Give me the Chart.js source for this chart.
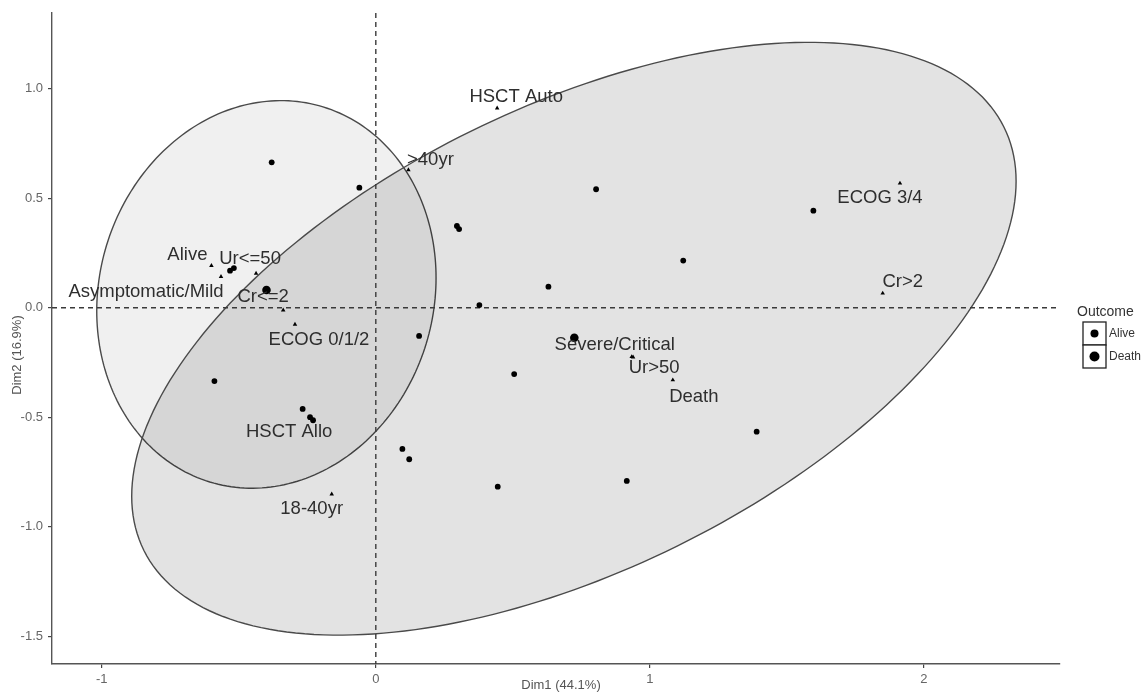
<!DOCTYPE html>
<html>
<head>
<meta charset="utf-8">
<script src="https://cdn.jsdelivr.net/npm/chart.js@4.4.1/dist/chart.umd.min.js"></script>
<style>
  html, body { margin: 0; padding: 0; background: #ffffff; }
  canvas { display: block; }
</style>
</head>
<body>
<canvas id="mca" width="1146" height="693"></canvas>
<script>
// Axis ticks
const xTicks = [-1, 0, 1, 2];
const xTickLabels = ['-1', '0', '1', '2'];
const yTicks = [-1.5, -1.0, -0.5, 0.0, 0.5, 1.0];
const yTickLabels = ['-1.5', '-1.0', '-0.5', '0.0', '0.5', '1.0'];
const xTitle = 'Dim1 (44.1%)';
const yTitle = 'Dim2 (16.9%)';

// Individuals (row coordinates)
const indX = [-0.380, -0.060, 0.296, 0.304, 0.804, 1.597, 1.122, 0.630, 0.378, 0.158,
              0.505, 1.390, 0.097, 0.122, 0.445, 0.916, -0.589, -0.267, -0.240, -0.229,
              -0.532, -0.518];
const indY = [0.664, 0.548, 0.373, 0.359, 0.541, 0.443, 0.215, 0.096, 0.012, -0.129,
              -0.303, -0.566, -0.645, -0.692, -0.817, -0.791, -0.335, -0.462, -0.500, -0.514,
              0.169, 0.181];

// Variable categories (column coordinates)
const catNames = ['Alive', 'Asymptomatic/Mild', 'Ur<=50', 'Cr<=2', 'ECOG 0/1/2', 'HSCT Allo',
                  '18-40yr', 'HSCT Auto', '>40yr', 'ECOG 3/4', 'Cr>2', 'Severe/Critical',
                  'Ur>50', 'Death'];
const catX = [-0.600, -0.565, -0.437, -0.338, -0.295, -0.236, -0.161, 0.443, 0.119, 1.913,
              1.850, 0.934, 0.939, 1.084];
const catY = [0.192, 0.142, 0.157, -0.011, -0.076, -0.504, -0.851, 0.911, 0.629, 0.568,
              0.066, -0.224, -0.226, -0.330];

// Outcome groups: mean points and concentration ellipses
const groups = ['Alive', 'Death'];
const groupX = [-0.399, 0.7245];
const groupY = [0.081, -0.137];
const ellCx = [-0.3993, 0.7230];
const ellCy = [0.0607, -0.1416];
const ellSxx = [0.3834, 2.6046];
const ellSyy = [0.7831, 1.8318];
const ellSxy = [0.0468, 1.1607];

// Label placement (pixel shift of each category label from its marker)
const catLabelShift = [[-24, -11], [-75, 15], [-6, -14], [-20, -13], [24, 16], [-22, 14],
                       [-20, 15], [19, -11], [22, -10], [-20, 15], [20, -11], [-17, -12],
                       [21, 11], [21, 17]];

const ellFill = ['rgba(0,0,0,0.059)', 'rgba(0,0,0,0.11)'];
const FONT = "'Liberation Sans', Arial, sans-serif";

const decor = {
  id: 'decor',
  beforeDatasetsDraw(chart) {
    const { ctx, chartArea: a, scales: { x, y } } = chart;
    ctx.save();
    ctx.beginPath();
    ctx.rect(a.left, a.top, a.right - a.left, a.bottom - a.top);
    ctx.clip();
    // concentration ellipses
    for (let g = 0; g < groups.length; g++) {
      const L11 = Math.sqrt(ellSxx[g]);
      const L21 = ellSxy[g] / L11;
      const L22 = Math.sqrt(ellSyy[g] - L21 * L21);
      ctx.beginPath();
      for (let i = 0; i <= 240; i++) {
        const t = (i / 240) * Math.PI * 2;
        const vx = ellCx[g] + L11 * Math.cos(t);
        const vy = ellCy[g] + L21 * Math.cos(t) + L22 * Math.sin(t);
        const px = x.getPixelForValue(vx), py = y.getPixelForValue(vy);
        if (i === 0) ctx.moveTo(px, py); else ctx.lineTo(px, py);
      }
      ctx.closePath();
      ctx.fillStyle = ellFill[g];
      ctx.fill();
      ctx.strokeStyle = '#4a4a4a';
      ctx.lineWidth = 1.4;
      ctx.stroke();
    }
    // reference lines through the origin
    ctx.setLineDash([5, 4]);
    ctx.strokeStyle = '#3a3a3a';
    ctx.lineWidth = 1.4;
    const x0 = x.getPixelForValue(0), y0 = y.getPixelForValue(0);
    ctx.beginPath();
    ctx.moveTo(x0, a.top); ctx.lineTo(x0, a.bottom);
    ctx.moveTo(a.left, y0); ctx.lineTo(a.right, y0);
    ctx.stroke();
    ctx.restore();
  },
  afterDatasetsDraw(chart) {
    const { ctx, scales: { x, y } } = chart;
    ctx.save();
    ctx.font = '18.5px ' + FONT;
    ctx.fillStyle = '#2e2e2e';
    ctx.textAlign = 'center';
    ctx.textBaseline = 'middle';
    catNames.forEach((name, i) => {
      const px = x.getPixelForValue(catX[i]) + catLabelShift[i][0];
      const py = y.getPixelForValue(catY[i]) + catLabelShift[i][1];
      ctx.fillText(name, px, py);
    });
    ctx.restore();
  },
  afterDraw(chart) {
    const { ctx } = chart;
    ctx.save();
    // axis titles
    ctx.fillStyle = '#555555';
    ctx.font = '13px ' + FONT;
    ctx.textAlign = 'center';
    ctx.textBaseline = 'middle';
    ctx.fillText(xTitle, 561, 685);
    ctx.translate(17, 355);
    ctx.rotate(-Math.PI / 2);
    ctx.fillText(yTitle, 0, 0);
    ctx.setTransform(1, 0, 0, 1, 0, 0);
    // legend
    ctx.fillStyle = '#333333';
    ctx.textAlign = 'left';
    ctx.font = '14px ' + FONT;
    ctx.fillText('Outcome', 1077, 312);
    const dotR = [4, 5];
    groups.forEach((g, i) => {
      const top = 322 + i * 23;
      ctx.fillStyle = '#ffffff';
      ctx.fillRect(1083, top, 23, 23);
      ctx.strokeStyle = '#222222';
      ctx.lineWidth = 1.3;
      ctx.strokeRect(1083, top, 23, 23);
      ctx.fillStyle = '#000000';
      ctx.beginPath();
      ctx.arc(1094.5, top + 11.5, dotR[i], 0, Math.PI * 2);
      ctx.fill();
      ctx.fillStyle = '#333333';
      ctx.font = '12px ' + FONT;
      ctx.fillText(g, 1109, top + 11.5);
    });
    ctx.restore();
  }
};

const toPts = (xs, ys) => xs.map((v, i) => ({ x: v, y: ys[i] }));

new Chart(document.getElementById('mca'), {
  type: 'scatter',
  data: {
    datasets: [
      {
        label: 'Individuals',
        data: toPts(indX, indY),
        pointStyle: 'circle',
        pointRadius: 2.9,
        backgroundColor: '#000000',
        borderColor: '#000000',
        borderWidth: 0
      },
      {
        label: 'Categories',
        data: toPts(catX, catY),
        pointStyle: 'triangle',
        pointRadius: 2.6,
        backgroundColor: '#000000',
        borderColor: '#000000',
        borderWidth: 0
      },
      {
        label: 'Group means',
        data: toPts(groupX, groupY),
        pointStyle: 'circle',
        pointRadius: 4.3,
        backgroundColor: '#000000',
        borderColor: '#000000',
        borderWidth: 0
      }
    ]
  },
  options: {
    responsive: false,
    devicePixelRatio: 1,
    animation: false,
    layout: { padding: { left: 0, right: 86, top: 13, bottom: 0 } },
    plugins: { legend: { display: false }, tooltip: { enabled: false } },
    scales: {
      x: {
        type: 'linear',
        min: -1.1818,
        max: 2.4971,
        afterBuildTicks(s) { s.ticks = xTicks.map(v => ({ value: v })); },
        afterFit(s) { s.height = 29; },
        ticks: {
          callback: (v) => xTickLabels[xTicks.indexOf(v)],
          color: '#666666',
          font: { family: FONT, size: 13 },
          padding: 4,
          maxRotation: 0
        },
        grid: { drawOnChartArea: false, drawTicks: true, tickLength: 4, color: '#444444', lineWidth: 1.2 },
        border: { display: true, color: '#555555', width: 1.4 }
      },
      y: {
        type: 'linear',
        min: -1.6269,
        max: 1.3457,
        afterBuildTicks(s) { s.ticks = yTicks.map(v => ({ value: v })); },
        afterFit(s) { s.width = 52; },
        ticks: {
          callback: (v) => yTickLabels[yTicks.indexOf(v)],
          color: '#666666',
          font: { family: FONT, size: 13 },
          padding: 5
        },
        grid: { drawOnChartArea: false, drawTicks: true, tickLength: 4, color: '#444444', lineWidth: 1.2 },
        border: { display: true, color: '#555555', width: 1.4 }
      }
    }
  },
  plugins: [decor]
});
</script>
</body>
</html>
